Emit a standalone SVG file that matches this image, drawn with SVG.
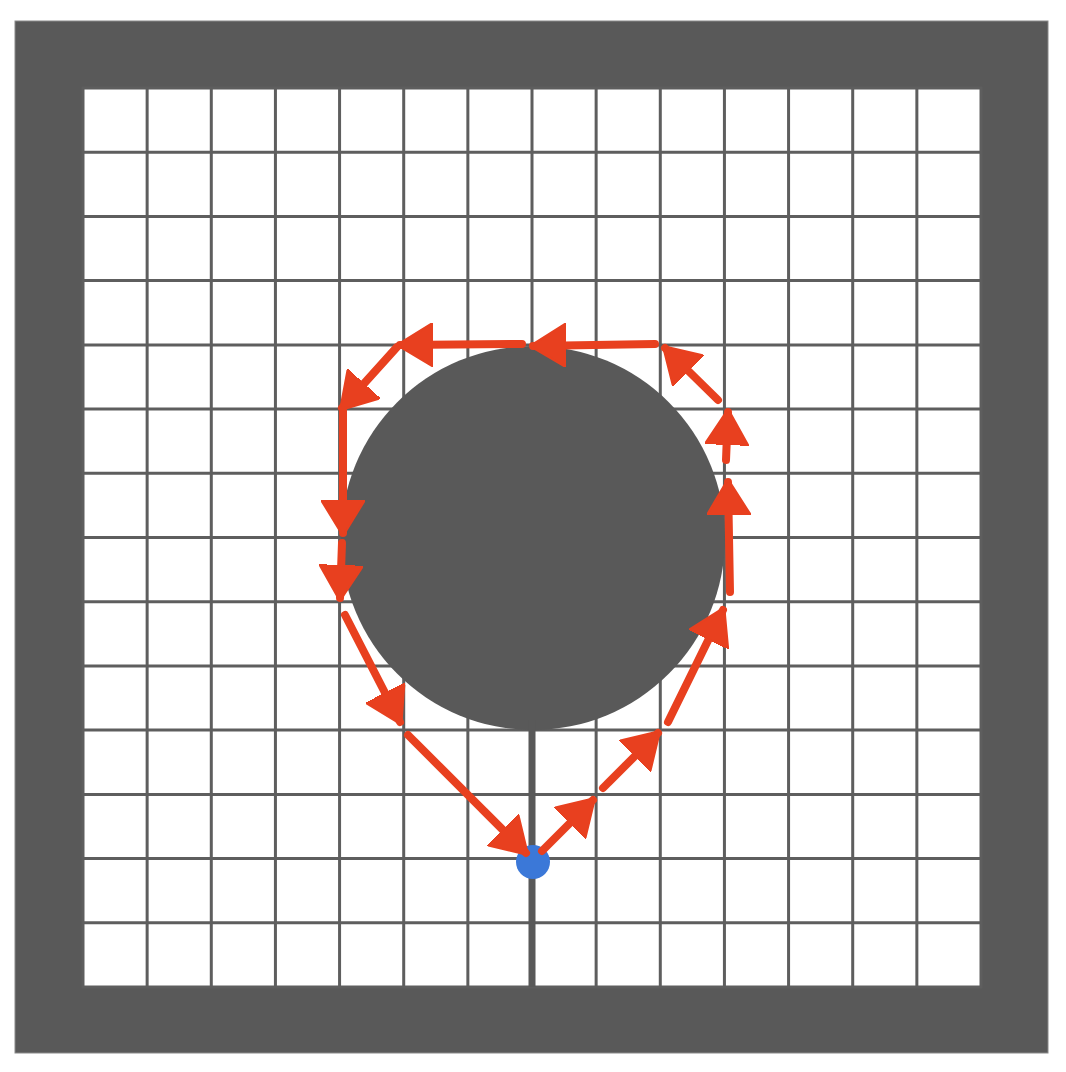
<svg xmlns="http://www.w3.org/2000/svg" width="1066" height="1072" viewBox="0 0 1066 1072">
  <style>
    .grid { stroke: #5e5e5e; stroke-width: 3; fill: none; }
    .arrow { stroke: #e8401f; stroke-width: 8; stroke-linecap: round; fill: none; marker-end: url(#head); }
  </style>
  <defs>
    <marker id="head" markerUnits="userSpaceOnUse" viewBox="0 0 36 44" markerWidth="36" markerHeight="44" refX="33" refY="22" orient="auto">
      <path d="M0,0 L36,22 L0,44 Z" fill="#e8401f" stroke="#e8401f" stroke-width="2" stroke-linejoin="round"/>
    </marker>
  </defs>
  <rect width="1066" height="1072" fill="#ffffff"/>
  <g id="board">
    <rect x="15" y="21" width="1033" height="1032" fill="#595959" stroke="#8a8a8a" stroke-width="1"/>
    <rect x="83" y="88" width="898" height="899" fill="#ffffff"/>
    <path class="grid" d="M147.14,88V987 M211.29,88V987 M275.43,88V987 M339.57,88V987 M403.71,88V987 M467.86,88V987 M532,88V987 M596.14,88V987 M660.29,88V987 M724.43,88V987 M788.57,88V987 M852.71,88V987 M916.86,88V987
      M83,152.2H981 M83,216.4H981 M83,280.6H981 M83,344.9H981 M83,409.1H981 M83,473.3H981 M83,537.5H981 M83,601.7H981 M83,665.9H981 M83,730.1H981 M83,794.4H981 M83,858.6H981 M83,922.8H981"/>
    <rect x="83" y="88" width="898" height="899" class="grid" stroke-width="2"/>
  </g>
  <g id="obstacle">
    <circle cx="533" cy="538" r="192" fill="#595959"/>
    <line x1="532" y1="720" x2="532" y2="987" stroke="#595959" stroke-width="7"/>
  </g>
  <g id="start">
    <circle cx="533" cy="862" r="17" fill="#3b78d8"/>
  </g>
  <g id="connectors">
    <line class="arrow" x1="542" y1="851" x2="593" y2="800"/>
    <line class="arrow" x1="603" y1="788" x2="658" y2="733"/>
    <line class="arrow" x1="668" y1="722" x2="723" y2="610"/>
    <line class="arrow" x1="730" y1="592" x2="728" y2="482"/>
    <line class="arrow" x1="726" y1="460" x2="728" y2="412"/>
    <line class="arrow" x1="718" y1="400" x2="665" y2="348"/>
    <line class="arrow" x1="655" y1="344" x2="533" y2="346"/>
    <line class="arrow" x1="522" y1="344" x2="400" y2="345"/>
    <line class="arrow" x1="397" y1="347" x2="342" y2="408"/>
    <line class="arrow" x1="343" y1="410" x2="343" y2="533"/>
    <line class="arrow" x1="342" y1="543" x2="340" y2="598"/>
    <line class="arrow" x1="345" y1="615" x2="400" y2="722"/>
    <line class="arrow" x1="408" y1="735" x2="526" y2="853"/>
  </g>
</svg>
